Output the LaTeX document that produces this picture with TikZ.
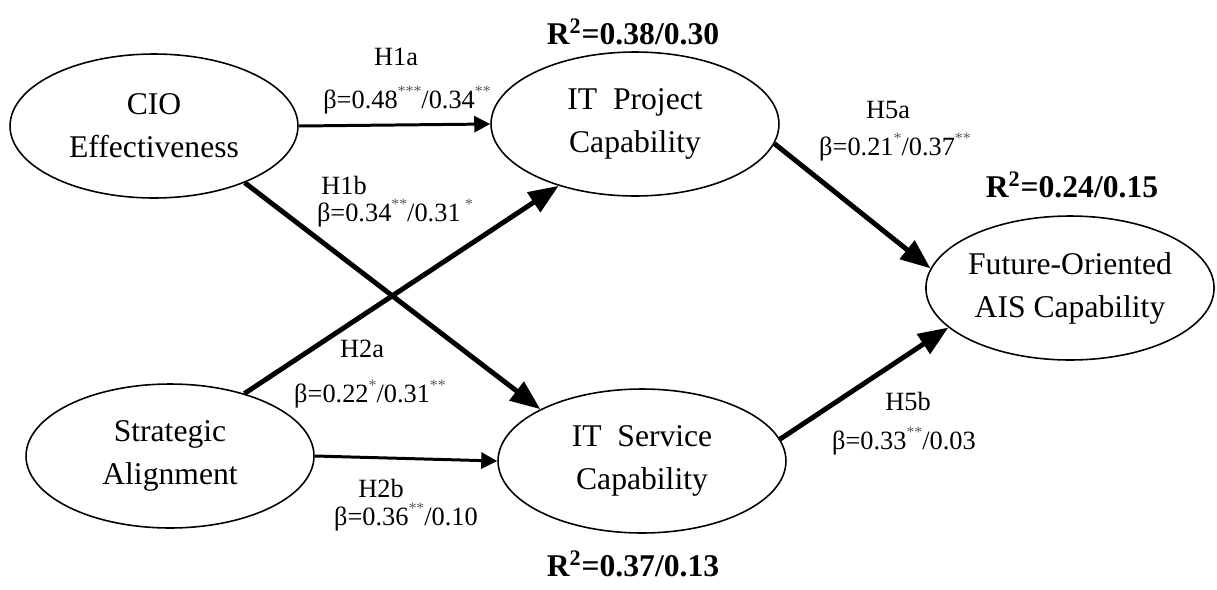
\documentclass[tikz,border=0pt]{standalone}
\usepackage{fontspec}
\setmainfont{Liberation Serif}
\usetikzlibrary{arrows.meta,shapes.geometric,positioning}
\newcommand{\sig}[1]{\raisebox{0.45em}{\fontsize{9}{9}\selectfont\color{black!65}#1}}

\begin{document}
\begin{tikzpicture}[x=0.02cm,y=-0.02cm,
  construct/.style={draw,ellipse,line width=0.9pt,minimum width=5.76cm,minimum height=2.88cm,
    align=center,inner sep=0pt,font=\fontsize{18}{24.5}\selectfont},
  hyp/.style={inner sep=0pt,font=\fontsize{15}{18}\selectfont},
  rsq/.style={inner sep=0pt,font=\fontsize{18}{20}\selectfont\bfseries},
  weak/.style={-{Triangle[length=0.32cm,width=0.32cm]},line width=1.7pt},
  strong/.style={-{Triangle[length=0.6cm,width=0.46cm]},line width=2.8pt}]
  \useasboundingbox (0,0) rectangle (1217,589);
  \node[construct] (cio) at (154,126) {CIO\\Effectiveness};
  \node[construct] (itp) at (635,124) {IT~ Project\\Capability};
  \node[construct] (sa) at (170,456) {Strategic\\Alignment};
  \node[construct] (its) at (642,461) {IT~ Service\\Capability};
  \node[construct] (fut) at (1070,288) {Future-Oriented\\AIS Capability};
  \node[rsq] (r1) at (633,32) {R\textsuperscript{2}=0.38/0.30};
  \node[rsq] (r2) at (1072,185) {R\textsuperscript{2}=0.24/0.15};
  \node[rsq] (r3) at (633,564) {R\textsuperscript{2}=0.37/0.13};
  \node[hyp] (h1a) at (396,57) {H1a};
  \node[hyp] (b1a) at (407,100) {β=0.48\sig{***}/0.34\sig{**}};
  \node[hyp] (h1b) at (344,185) {H1b};
  \node[hyp] (b1b) at (395,213) {β=0.34\sig{**}/0.31\,\sig{*}};
  \node[hyp] (h2a) at (362,349) {H2a};
  \node[hyp] (b2a) at (370,394) {β=0.22\sig{*}/0.31\sig{**}};
  \node[hyp] (h2b) at (381,488) {H2b};
  \node[hyp] (b2b) at (406,517) {β=0.36\sig{**}/0.10};
  \node[hyp] (h5a) at (888,110) {H5a};
  \node[hyp] (b5a) at (895,147) {β=0.21\sig{*}/0.37\sig{**}};
  \node[hyp] (h5b) at (908,401) {H5b};
  \node[hyp] (b5b) at (904,441) {β=0.33\sig{**}/0.03};
  \path[weak]
    (cio.east) edge (itp.west)
    (sa.east) edge (its.west);
  \path[strong]
    (cio.-32) edge (its.153)
    (sa.40) edge (itp.219)
    (itp.-8) edge (fut.172)
    (its.9) edge (fut.198);
\end{tikzpicture}
\end{document}
